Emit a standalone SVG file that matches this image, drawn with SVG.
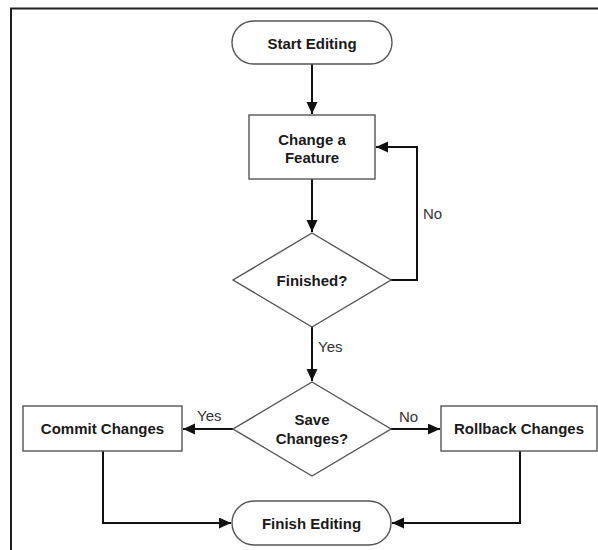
<svg xmlns="http://www.w3.org/2000/svg" width="598" height="550" viewBox="0 0 598 550">
<style>
.node{fill:#fff;stroke:#555;stroke-width:1.4}
.t{font-family:"Liberation Sans",Arial,sans-serif;font-weight:bold;font-size:15px;fill:#1a1a1a;text-anchor:middle;dominant-baseline:central}
.lbl{font-family:"Liberation Sans",Arial,sans-serif;font-size:15px;fill:#333;dominant-baseline:central}
.c{fill:none;stroke:#111;stroke-width:2}
</style>
<defs>
<marker id="ah" markerUnits="userSpaceOnUse" markerWidth="13" markerHeight="12" refX="12" refY="5.5" orient="auto">
<path d="M0,0 L12,5.5 L0,11 z" fill="#111"/>
</marker>
</defs>
<rect width="598" height="550" fill="#fff"/>
<path d="M11,550 V8.5 H598" fill="none" stroke="#222" stroke-width="2"/>
<g id="connectors">
<path class="c" d="M312,64 V114" marker-end="url(#ah)"/>
<path class="c" d="M312,179 V232" marker-end="url(#ah)"/>
<path class="c" d="M391,280 H417 V147 H376" marker-end="url(#ah)"/>
<path class="c" d="M312,327 V381" marker-end="url(#ah)"/>
<path class="c" d="M233,429 H183" marker-end="url(#ah)"/>
<path class="c" d="M391,429 H440" marker-end="url(#ah)"/>
<path class="c" d="M103,451 V523 H231" marker-end="url(#ah)"/>
<path class="c" d="M520,451 V523 H392" marker-end="url(#ah)"/>
<text class="lbl" x="423" y="213">No</text>
<text class="lbl" x="318" y="346">Yes</text>
<text class="lbl" x="197" y="415">Yes</text>
<text class="lbl" x="399" y="416">No</text>
</g>
<g id="start">
<rect class="node" x="232" y="21" width="160" height="43" rx="21.5"/>
<text class="t" x="312" y="43">Start Editing</text>
</g>
<g id="change">
<rect class="node" x="249" y="115" width="126" height="64"/>
<text class="t" x="312" y="139">Change a</text>
<text class="t" x="312" y="157">Feature</text>
</g>
<g id="finished">
<polygon class="node" points="312,233 391,280 312,327 233,280"/>
<text class="t" x="312" y="280">Finished?</text>
</g>
<g id="save">
<polygon class="node" points="312,382 391,429 312,476 233,429"/>
<text class="t" x="312" y="419">Save</text>
<text class="t" x="312" y="438">Changes?</text>
</g>
<g id="commit">
<rect class="node" x="23" y="406" width="159" height="45"/>
<text class="t" x="102.5" y="428.5">Commit Changes</text>
</g>
<g id="rollback">
<rect class="node" x="441" y="406" width="156" height="45"/>
<text class="t" x="519" y="428.5">Rollback Changes</text>
</g>
<g id="finish">
<rect class="node" x="232" y="501" width="159" height="44" rx="22"/>
<text class="t" x="311.5" y="523">Finish Editing</text>
</g>
</svg>
